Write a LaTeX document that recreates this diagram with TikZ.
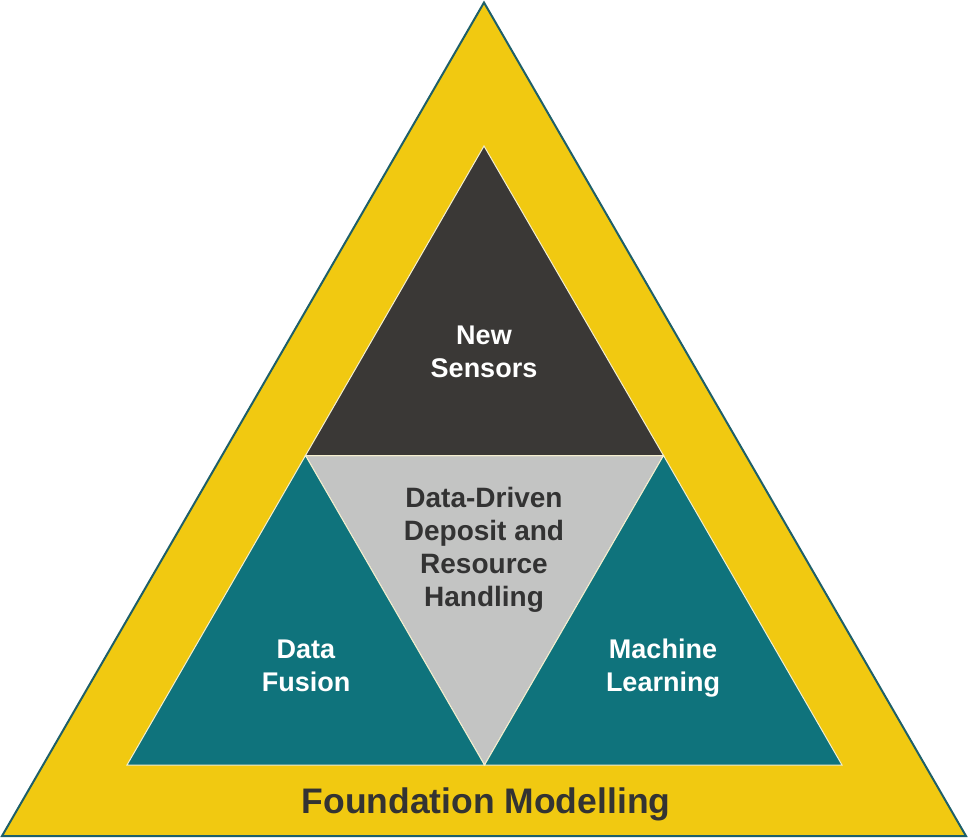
\documentclass[tikz,border=0pt]{standalone}
\usepackage{fontspec}
\setmainfont{Liberation Sans}
\definecolor{yel}{HTML}{F1C911}
\definecolor{darkg}{HTML}{3A3836}
\definecolor{tealc}{HTML}{0F737C}
\definecolor{lgray}{HTML}{C3C4C3}
\definecolor{edge}{HTML}{1E5F69}
\definecolor{txtd}{HTML}{333333}
\definecolor{sep}{HTML}{F4EFD0}
\begin{document}
\begin{tikzpicture}[x=1pt,y=-1pt,
  part/.style={draw=sep, line width=1pt, line join=miter},
  lbl/.style={font=\bfseries\fontsize{27}{33}\selectfont, align=center, inner sep=0pt},
  wlbl/.style={lbl, text=white},
  dlbl/.style={lbl, font=\bfseries\fontsize{28}{33}\selectfont, text=txtd}]
\useasboundingbox (0,0) rectangle (969,839);
% outer triangle
\fill[yel, draw=edge, line width=2pt, line join=miter] (484,2.5) -- (966,836) -- (2,836) -- cycle;
% inner parts
\coordinate (apex) at (484,146);
\coordinate (bl) at (127,765);
\coordinate (br) at (842,765);
\coordinate (ml) at (305.5,455.5);
\coordinate (mr) at (663.5,455.5);
\coordinate (mb) at (484.5,765);
\fill[lgray, part] (ml) -- (mr) -- (mb) -- cycle;
\fill[darkg, part] (apex) -- (mr) -- (ml) -- cycle;
\fill[tealc, part] (ml) -- (mb) -- (bl) -- cycle;
\fill[tealc, part] (mr) -- (br) -- (mb) -- cycle;
% labels
\node[wlbl] (sensors) at (484,352) {New\\Sensors};
\node[dlbl] (deposit) at (484,550) {Data-Driven\\Deposit and\\Resource\\Handling};
\node[wlbl] (fusion) at (306,665.5) {Data\\Fusion};
\node[wlbl] (mlearn) at (663,668) {Machine\\Learning};
\node[font=\bfseries\fontsize{35.5}{40}\selectfont, text=txtd, inner sep=0pt, anchor=base] (found) at (486,813) {Foundation Modelling};
\end{tikzpicture}
\end{document}
